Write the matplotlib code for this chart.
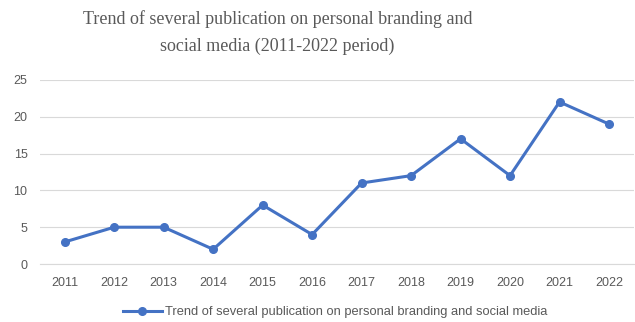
import matplotlib.pyplot as plt

years = ["2011", "2012", "2013", "2014", "2015", "2016", "2017", "2018", "2019", "2020", "2021", "2022"]
pubs = [3, 5, 5, 2, 8, 4, 11, 12, 17, 12, 22, 19]
label = "Trend of several publication on personal branding and social media"

plt.rcParams['font.family'] = ['Liberation Sans', 'DejaVu Sans']

fig = plt.figure(figsize=(6.35, 3.22), dpi=100)
ax = fig.add_axes([0.063, 0.18, 0.935, 0.572])

ax.plot(years, pubs, color='#4472C4', linewidth=2.2, marker='o', markersize=5.5, label=label)

ax.set_ylim(0, 25)
ax.set_yticks(range(0, 26, 5))
ax.set_xlim(-0.5, len(years) - 0.5)
ax.grid(axis='y', color='#D9D9D9', linewidth=0.8)
ax.set_axisbelow(True)
for s in ax.spines.values():
    s.set_visible(False)
ax.spines['bottom'].set_visible(True)
ax.spines['bottom'].set_color('#D9D9D9')
ax.tick_params(length=0, labelsize=9, labelcolor='#595959', pad=9)

fig.text(0.437, 0.97, "Trend of several publication on personal branding and\nsocial media (2011-2022 period)",
         family='Liberation Serif', fontsize=13, color='#595959', ha='center', va='top', linespacing=1.75)

fig.legend(loc='lower center', bbox_to_anchor=(0.528, -0.025), frameon=False, fontsize=9.3,
           labelcolor='#595959', handlelength=3, handletextpad=0.3)

fig.savefig("out.png", dpi=100)
